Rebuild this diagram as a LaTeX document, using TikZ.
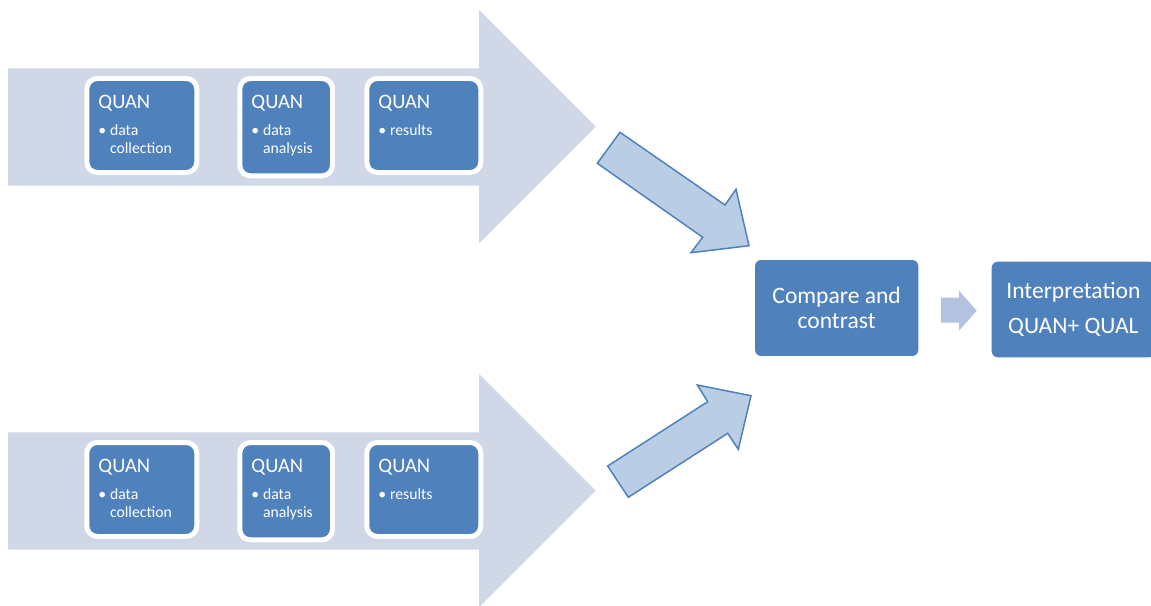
\documentclass[tikz,border=0pt]{standalone}
\usepackage{fontspec}
\setmainfont{Carlito}
\definecolor{bandgray}{HTML}{D0D8E8}
\definecolor{boxblue}{HTML}{4F81BD}
\definecolor{arrowfill}{HTML}{B9CDE5}
\definecolor{stepfill}{HTML}{B3C3DF}
\newcommand{\bulletmark}{\makebox[6.6pt][l]{•}}
\newcommand{\bulletgap}{\hspace*{6.6pt}}
\tikzset{
    band/.style = {
        fill = bandgray,
        },
    quan box/.style = {
        draw = white,
        line width = 2.83pt,
        fill = boxblue,
        rounded corners = 6pt,
        outer sep = 0pt,
        inner sep = 0pt,
        },
    quan text/.style = {
        anchor = north west,
        text = white,
        inner sep = 0pt,
        text width = 2cm,
        align = left,
        font = \fontsize{8.95pt}{10.4pt}\selectfont,
        },
    result box/.style = {
        fill = boxblue,
        rounded corners = 3.4pt,
        minimum width = 3.266cm,
        text = white,
        align = center,
        },
    block arrow/.style = {
        draw = boxblue,
        line width = 0.85pt,
        fill = arrowfill,
        line join = miter,
        },
    small arrow/.style = {
        fill = stepfill,
        },
}

\begin{document}
\begin{tikzpicture}[x=0.02cm, y=-0.02cm]
    \useasboundingbox (0,0) rectangle (1151,605);
    \clip (0,0) rectangle (1151,605);

    \fill[band] (8,68.3) -- (479,68.3) -- (479,10) -- (595.7,126.7) -- (479,243.3) -- (479,185.7) -- (8,185.7) -- cycle;
    \fill[band] (8,432.3) -- (479,432.3) -- (479,374) -- (595.7,490.7) -- (479,607.3) -- (479,549.7) -- (8,549.7) -- cycle;

    \node[quan box, minimum width=2.2cm, minimum height=1.88cm] (q1) at (141.8,125.5) {};
    \node[quan box, minimum width=1.854cm, minimum height=1.946cm] (q2) at (286.15,127.15) {};
    \node[quan box, minimum width=2.28cm, minimum height=1.88cm] (q3) at (423.8,125.5) {};
    \node[quan box, minimum width=2.2cm, minimum height=1.88cm] (q4) at (141.8,489.5) {};
    \node[quan box, minimum width=1.854cm, minimum height=1.946cm] (q5) at (286.15,491.15) {};
    \node[quan box, minimum width=2.28cm, minimum height=1.88cm] (q6) at (423.8,489.5) {};

    \node[quan text] (t1) at ([shift={(11.3,15.8)}]q1.north west) {{\fontsize{11.7pt}{12pt}\selectfont QUAN}\\[5.1pt]\bulletmark data\\\bulletgap collection};
    \node[quan text] (t2) at ([shift={(11.3,15.8)}]q2.north west) {{\fontsize{11.7pt}{12pt}\selectfont QUAN}\\[5.1pt]\bulletmark data\\\bulletgap analysis};
    \node[quan text] (t3) at ([shift={(11.3,15.8)}]q3.north west) {{\fontsize{11.7pt}{12pt}\selectfont QUAN}\\[5.1pt]\bulletmark results};
    \node[quan text] (t4) at ([shift={(11.3,15.8)}]q4.north west) {{\fontsize{11.7pt}{12pt}\selectfont QUAN}\\[5.1pt]\bulletmark data\\\bulletgap collection};
    \node[quan text] (t5) at ([shift={(11.3,15.8)}]q5.north west) {{\fontsize{11.7pt}{12pt}\selectfont QUAN}\\[5.1pt]\bulletmark data\\\bulletgap analysis};
    \node[quan text] (t6) at ([shift={(11.3,15.8)}]q6.north west) {{\fontsize{11.7pt}{12pt}\selectfont QUAN}\\[5.1pt]\bulletmark results};

    \node[result box, minimum height=1.92cm, font=\fontsize{13.4pt}{14.2pt}\selectfont] (cmp) at (836.65,308) {Compare and\\contrast};
    \node[result box, minimum height=1.912cm, font=\fontsize{13.4pt}{19.8pt}\selectfont] (interp) at (1073.35,309.5) {Interpretation\\QUAN+ QUAL};

    \draw[block arrow] (620,132.3) -- (725,205) -- (736,189.3) -- (749,245.7) -- (691,252.7) -- (702.7,237.3) -- (597.3,163.3) -- cycle;
    \draw[block arrow] (607.7,466) -- (707.7,401.7) -- (697.3,385) -- (751,395.7) -- (738.3,449.3) -- (727.7,433.3) -- (628.3,497.3) -- cycle;
    \fill[small arrow] (941,297.7) -- (959,297.7) -- (959,290.7) -- (976.7,310.7) -- (959,330.7) -- (959,322.7) -- (941,322.7) -- cycle;
\end{tikzpicture}
\end{document}
